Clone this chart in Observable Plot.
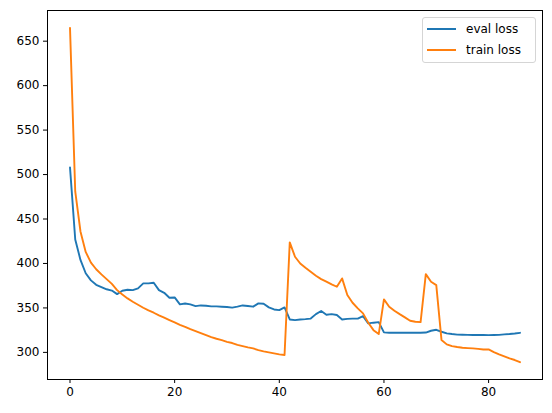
<!DOCTYPE html>
<html>
<head>
<meta charset="utf-8">
<script src="https://cdn.jsdelivr.net/npm/d3@7"></script>
<script src="https://cdn.jsdelivr.net/npm/@observablehq/plot@0.6"></script>
<style>
  body { margin: 0; background: #fff; }
  #wrap { position: relative; width: 552px; height: 413px; font-family: "DejaVu Sans", sans-serif; }
  #legend { position: absolute; left: 422px; top: 17px; width: 112px; height: 44px;
    border: 1px solid #d5d5d5; border-radius: 3px; background: rgba(255,255,255,0.8);
    font-size: 12px; color: #000; }
  .row { position: absolute; left: 0; height: 14px; display: flex; align-items: center; }
  .sw { width: 29px; height: 2px; margin-left: 4px; margin-right: 10px; }
</style>
</head>
<body>
<div id="wrap"></div>
<script>
const seriesNames = ["eval loss", "train loss"];
const seriesColors = ["#1f77b4", "#ff7f0e"];
const xTicks = [0, 20, 40, 60, 80];
const yTicks = [300, 350, 400, 450, 500, 550, 600, 650];

const evalLoss = [508, 427, 404, 389, 381, 376, 373.5, 371, 369.5, 365.5,
  369.3, 370.5, 370, 372, 377.6, 377.6, 378.3, 370, 367, 361.4,
  361.8, 354, 355, 354, 352, 352.8, 352.5, 351.7, 351.7, 351.4,
  351, 350.3, 351.4, 352.8, 352.1, 351.4, 355.1, 354.7, 350.6, 348.3,
  347.5, 350.6, 337, 336.3, 337, 337.4, 338, 343, 346.5, 342.3,
  343, 342, 337, 337.7, 338, 338, 340.8, 332.6, 333.4, 334,
  322.5, 322, 322, 322, 322, 322, 322, 322, 322.3, 324.3,
  325.4, 323.2, 321.4, 320.6, 320, 319.8, 319.7, 319.6, 319.5, 319.5,
  319.4, 319.5, 319.7, 320.2, 320.6, 321.2, 322];

const trainLoss = [665, 481, 436, 413, 401, 393.5, 387.7, 382.4, 377, 370,
  365, 360.7, 357, 353.6, 350.2, 347.2, 344.6, 341.6, 339, 336.3,
  333.7, 331, 328.8, 326.2, 324, 321.7, 319.5, 317.2, 315.3, 313.8,
  311.9, 310.5, 308.5, 307, 305.6, 304.5, 302.6, 301.1, 300, 298.9,
  297.8, 297, 423.7, 407.6, 400, 395.2, 390.7, 386.2, 382.4, 379.5,
  376.5, 373.8, 383.2, 364.5, 355.8, 349.5, 343.9, 333.3, 325, 320.6,
  359.6, 351.3, 346.8, 343, 339.4, 335.6, 334.4, 334, 388, 379.4,
  375.7, 313.8, 309, 307, 306, 305.2, 304.8, 304.5, 304, 303.3,
  303.3, 300.3, 297.8, 295.5, 293.2, 291.4, 289];

const evalData = evalLoss.map((v, i) => ({epoch: i, loss: v}));
const trainData = trainLoss.map((v, i) => ({epoch: i, loss: v}));

const chart = Plot.plot({
  width: 552,
  height: 413,
  marginLeft: 47,
  marginRight: 10,
  marginTop: 10,
  marginBottom: 34,
  style: {fontFamily: "DejaVu Sans, sans-serif", fontSize: "12px", color: "#000", background: "#fff"},
  x: {domain: [-4.3, 90.3]},
  y: {domain: [269.5, 684.5]},
  marks: [
    Plot.line(evalData, {x: "epoch", y: "loss", stroke: seriesColors[0], strokeWidth: 1.9}),
    Plot.line(trainData, {x: "epoch", y: "loss", stroke: seriesColors[1], strokeWidth: 1.9}),
    Plot.frame({stroke: "#000", strokeWidth: 1}),
    Plot.axisX({ticks: xTicks, tickSize: 4, tickPadding: 4, label: null, fontSize: 12}),
    Plot.axisY({ticks: yTicks, tickSize: 4, tickPadding: 4, label: null, fontSize: 12})
  ]
});

const wrap = document.getElementById("wrap");
wrap.appendChild(chart);

const legend = document.createElement("div");
legend.id = "legend";
seriesNames.forEach((name, k) => {
  const row = document.createElement("div");
  row.className = "row";
  row.style.top = (4 + k * 21) + "px";
  const sw = document.createElement("div");
  sw.className = "sw";
  sw.style.background = seriesColors[k];
  const label = document.createElement("span");
  label.textContent = name;
  row.appendChild(sw);
  row.appendChild(label);
  legend.appendChild(row);
});
wrap.appendChild(legend);
</script>
</body>
</html>
